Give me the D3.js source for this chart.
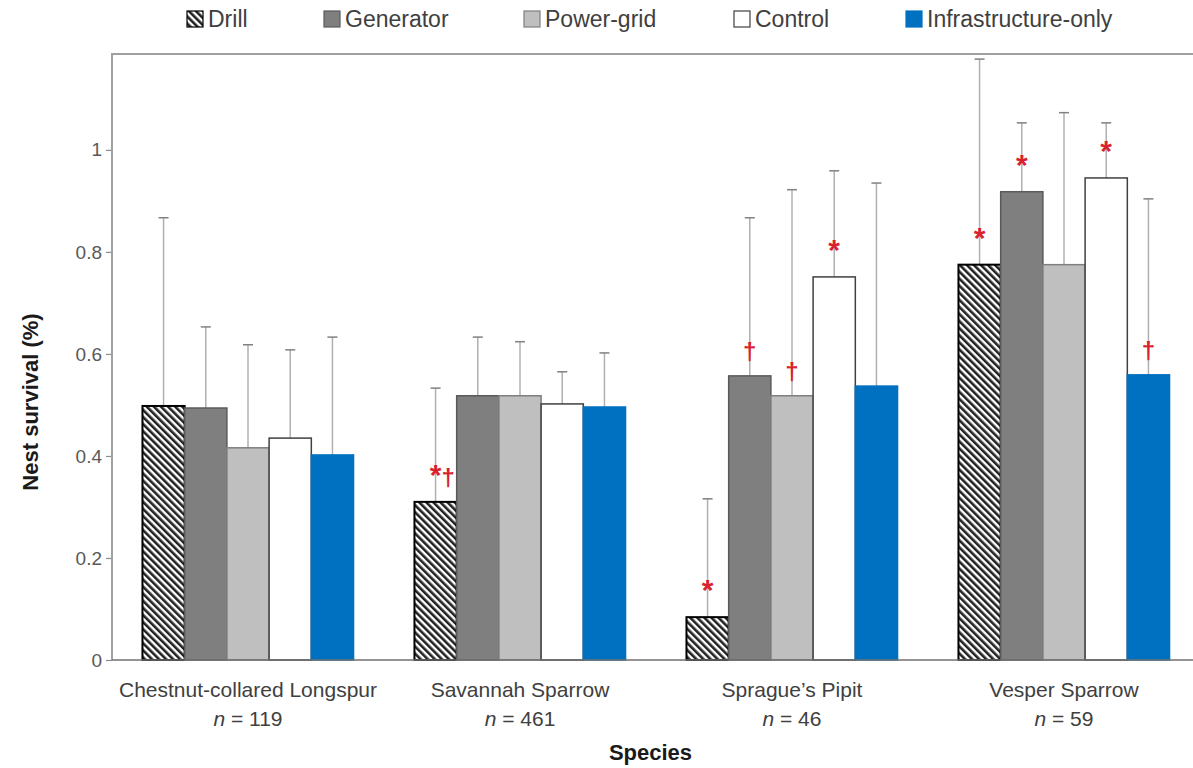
<!DOCTYPE html>
<html>
<head>
<meta charset="utf-8">
<script src="https://cdn.jsdelivr.net/npm/d3@7"></script>
<style>
body { margin: 0; background: #fff; }
text { font-family: "Liberation Sans", Arial, sans-serif; }
</style>
</head>
<body>
<script>
// nest survival by species and site type
var species = ["Chestnut-collared Longspur", "Savannah Sparrow", "Sprague\u2019s Pipit", "Vesper Sparrow"];
var sampleSizes = [119, 461, 46, 59];
var seriesNames = ["Drill", "Generator", "Power-grid", "Control", "Infrastructure-only"];

// survival estimates
var drill = [0.498, 0.31, 0.084, 0.775];
var generator = [0.494, 0.518, 0.557, 0.918];
var powerGrid = [0.416, 0.518, 0.518, 0.775];
var control = [0.435, 0.502, 0.751, 0.945];
var infraOnly = [0.402, 0.496, 0.537, 0.559];

// upper confidence limits
var drillHi = [0.867, 0.533, 0.316, 1.178];
var generatorHi = [0.653, 0.633, 0.867, 1.053];
var powerGridHi = [0.618, 0.624, 0.922, 1.073];
var controlHi = [0.608, 0.565, 0.959, 1.053];
var infraOnlyHi = [0.633, 0.602, 0.935, 0.904];

// significance symbols (species index, series index, symbol)
var markSpecies = [1, 2, 2, 2, 2, 3, 3, 3, 3];
var markSeries = [0, 0, 1, 2, 3, 0, 1, 3, 4];
var markSymbol = ["*\u2020", "*", "\u2020", "\u2020", "*", "*", "*", "*", "\u2020"];

var yTicks = [0, 0.2, 0.4, 0.6, 0.8, 1];

var values = [drill, generator, powerGrid, control, infraOnly];
var uppers = [drillHi, generatorHi, powerGridHi, controlHi, infraOnlyHi];

var fills = ["url(#hatch)", "#7f7f7f", "#bfbfbf", "#ffffff", "#0070c0"];
var strokes = ["#000000", "#5a5a5a", "#7f7f7f", "#404040", "#0070c0"];

var width = 1193, height = 768;
var plot = {left: 112, right: 1200, top: 54, bottom: 660};

var svg = d3.select("body")
	.append("svg")
	.attr("width", width)
	.attr("height", height);

var defs = svg.append("defs");
var pat = defs.append("pattern")
	.attr("id", "hatch")
	.attr("patternUnits", "userSpaceOnUse")
	.attr("width", 5)
	.attr("height", 5)
	.attr("patternTransform", "rotate(-45)");
pat.append("rect").attr("width", 5).attr("height", 5).attr("fill", "#fff");
pat.append("rect").attr("width", 2.6).attr("height", 5).attr("fill", "#222");

var rows = [];
species.forEach(function(s, i) {
	seriesNames.forEach(function(n, j) {
		rows.push({species: s, series: n, si: i, ki: j, v: values[j][i], hi: uppers[j][i]});
	});
});

var xScale = d3.scaleBand()
	.domain(species)
	.range([plot.left, plot.right])
	.paddingInner(0.224)
	.paddingOuter(0.112);

var xInner = d3.scaleBand()
	.domain(seriesNames)
	.range([0, xScale.bandwidth()]);

var yScale = d3.scaleLinear()
	.domain([0, 1.188])
	.range([plot.bottom, plot.top]);

function cx(d) { return xScale(d.species) + xInner(d.series) + xInner.bandwidth() / 2; }

// plot frame
svg.append("line")
	.attr("x1", plot.left).attr("x2", plot.right)
	.attr("y1", plot.top).attr("y2", plot.top)
	.attr("stroke", "#a0a0a0").attr("stroke-width", 2);

// error bars
var eb = svg.append("g");
eb.selectAll("line.err")
	.data(rows)
	.enter().append("line")
	.attr("class", "err")
	.attr("x1", cx)
	.attr("x2", cx)
	.attr("y1", function(d) { return yScale(d.v); })
	.attr("y2", function(d) { return yScale(d.hi); })
	.attr("stroke", "#b0b0b0")
	.attr("stroke-width", 1.5);
eb.selectAll("line.cap")
	.data(rows)
	.enter().append("line")
	.attr("class", "cap")
	.attr("x1", function(d) { return cx(d) - 5; })
	.attr("x2", function(d) { return cx(d) + 5; })
	.attr("y1", function(d) { return yScale(d.hi); })
	.attr("y2", function(d) { return yScale(d.hi); })
	.attr("stroke", "#808080")
	.attr("stroke-width", 1.5);

// bars
svg.append("g")
	.selectAll("rect")
	.data(rows)
	.enter().append("rect")
	.attr("x", function(d) { return xScale(d.species) + xInner(d.series); })
	.attr("y", function(d) { return yScale(d.v); })
	.attr("width", xInner.bandwidth())
	.attr("height", function(d) { return yScale(0) - yScale(d.v); })
	.attr("fill", function(d) { return fills[d.ki]; })
	.attr("stroke", function(d) { return strokes[d.ki]; })
	.attr("stroke-width", function(d) { return d.ki == 0 ? 2 : 1.5; });

// red significance marks
var marks = markSymbol.map(function(m, i) {
	var j = markSeries[i], s = markSpecies[i];
	return {species: species[s], series: seriesNames[j], v: values[j][s], sym: m};
});
var mk = svg.append("g")
	.selectAll("text")
	.data(marks)
	.enter().append("text")
	.attr("x", cx)
	.attr("text-anchor", "middle")
	.attr("fill", "#d8232f")
	.attr("font-weight", "bold");
mk.each(function(d) {
	var base = yScale(d.v) - 22;
	d3.select(this).selectAll("tspan")
		.data(d.sym.split(""))
		.enter().append("tspan")
		.attr("font-size", function(c) { return c == "*" ? 30 : 24; })
		// asterisk sits high in the font, so push it down a bit
		.attr("y", function(c) { return c == "*" ? base + 5 : base + 6; })
		.attr("dx", function(c, i) { return i > 0 ? 1 : 0; })
		.text(function(c) { return c; });
});

// y axis
var yAxis = svg.append("g")
	.attr("transform", "translate(" + plot.left + ",0)")
	.call(d3.axisLeft(yScale).tickValues(yTicks).tickSize(6).tickPadding(4)
		.tickFormat(function(d) { return d3.format("")(d); }));
yAxis.select(".domain").remove();
yAxis.selectAll(".tick line").attr("stroke", "#8c8c8c").attr("stroke-width", 1.2);
yAxis.selectAll(".tick text").attr("fill", "#595959").attr("font-size", 19);
svg.append("line")
	.attr("x1", plot.left).attr("x2", plot.left)
	.attr("y1", plot.top - 1).attr("y2", plot.bottom)
	.attr("stroke", "#a0a0a0").attr("stroke-width", 2);

// x axis
svg.append("line")
	.attr("x1", plot.left).attr("x2", plot.right)
	.attr("y1", plot.bottom).attr("y2", plot.bottom)
	.attr("stroke", "#707070").attr("stroke-width", 1.5);

var xl = svg.append("g").selectAll("g")
	.data(species)
	.enter().append("g");
xl.append("text")
	.attr("x", function(d) { return xScale(d) + xScale.bandwidth() / 2; })
	.attr("y", 697)
	.attr("text-anchor", "middle")
	.attr("fill", "#404040")
	.attr("font-size", 21)
	.text(function(d) { return d; });
var nl = xl.append("text")
	.attr("x", function(d) { return xScale(d) + xScale.bandwidth() / 2; })
	.attr("y", 726)
	.attr("text-anchor", "middle")
	.attr("fill", "#404040")
	.attr("font-size", 21);
nl.append("tspan").attr("font-style", "italic").text("n");
nl.append("tspan").text(function(d) { return " = " + sampleSizes[species.indexOf(d)]; });

// axis titles
svg.append("text")
	.attr("x", (plot.left + 1193) / 2 - 2)
	.attr("y", 760)
	.attr("text-anchor", "middle")
	.attr("fill", "#1a1a1a")
	.attr("font-size", 22)
	.attr("font-weight", "bold")
	.text("Species");
svg.append("text")
	.attr("transform", "translate(38,402) rotate(-90)")
	.attr("text-anchor", "middle")
	.attr("fill", "#1a1a1a")
	.attr("font-size", 22)
	.attr("font-weight", "bold")
	.text("Nest survival (%)");

// legend
var legendX = [187, 324, 524, 734, 906];
var legend = svg.append("g")
	.selectAll("g")
	.data(seriesNames)
	.enter().append("g")
	.attr("transform", function(d, i) { return "translate(" + legendX[i] + ",11)"; });
legend.append("rect")
	.attr("width", 16)
	.attr("height", 16)
	.attr("fill", function(d, i) { return fills[i]; })
	.attr("stroke", function(d, i) { return i == 3 ? "#404040" : strokes[i]; })
	.attr("stroke-width", 1.2);
legend.append("text")
	.attr("x", 21)
	.attr("y", 16)
	.attr("fill", "#404040")
	.attr("font-size", 23)
	.text(function(d) { return d; });
</script>
</body>
</html>
